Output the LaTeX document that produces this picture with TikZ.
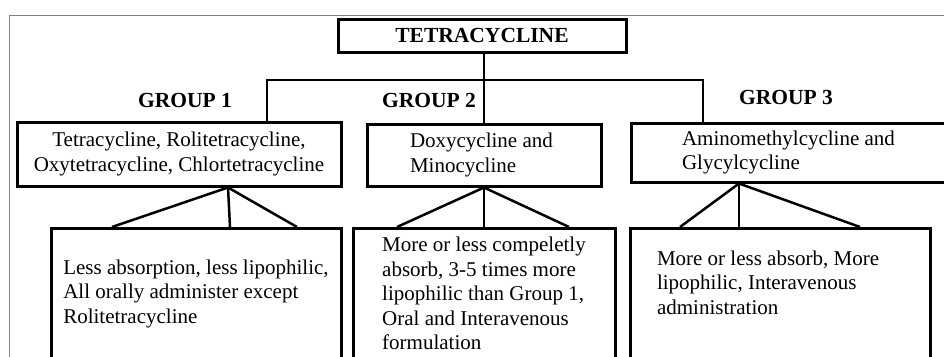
\documentclass[tikz,border=0pt]{standalone}
\usepackage{fontspec}
\setmainfont{Liberation Serif}
\usetikzlibrary{positioning}

\begin{document}
\begin{tikzpicture}[x=1pt,y=-1pt,
    every node/.style={font=\fontsize{21}{24.5}\selectfont},
    box/.style={draw=black,line width=3pt,inner sep=0pt},
    head/.style={font=\fontsize{21.5}{24}\selectfont\bfseries},
    link/.style={line width=2.5pt}]
  \useasboundingbox (0,0) rectangle (944,356);
  \clip (0,0) rectangle (944,356);
  \draw[gray,line width=1pt] (9,15) rectangle (960,380);

  % top
  \node[box,head,minimum width=288,minimum height=33] (tetra) at (482,35.5) {TETRACYCLINE};

  % groups
  \node[head] (lab1) at (185,100) {GROUP 1};
  \node[head] (lab2) at (429,100) {GROUP 2};
  \node[head] (lab3) at (786,97) {GROUP 3};

  \node[box,minimum width=324,minimum height=64,align=center] (g1) at (179,154)
    {Tetracycline, Rolitetracycline,\\Oxytetracycline, Chlortetracycline};
  \node[box,minimum width=234,minimum height=62,align=flush left,text width=148] (g2) at (484,155)
    {Doxycycline and\\Minocycline};
  \node[box,minimum width=315,minimum height=59,align=left] (g3) at (788.5,152.5)
    {Aminomethylcycline and\\Glycylcycline};

  % properties
  \node[box,anchor=north,minimum width=290,minimum height=130,align=left] (b1) at (196,227)
    {Less absorption, less lipophilic,\\All orally administer except\\Rolitetracycline};
  \node[box,anchor=north,minimum width=262,minimum height=130,align=left] (b2) at (484,227)
    {More or less compeletly\\absorb, 3-5 times more\\lipophilic than Group 1,\\Oral and Interavenous\\formulation};
  \node[box,anchor=north,minimum width=300,minimum height=130,align=flush left,text width=246] (b3) at (780,227)
    {More or less absorb, More\\lipophilic, Interavenous\\administration\rule[-22pt]{0pt}{0pt}};

  % links
  \coordinate (j1) at (267,80);
  \coordinate (j3) at (703,80);
  \draw[link] (tetra.south -| g2.north) -- (g2.north);
  \draw[link] (g1.north -| j1) -- (j1) -- (j3) -- (g3.north -| j3);

  \foreach \dx in {-84,34,101}
    \draw[link] ([xshift=49]g1.south) -- ([xshift=\dx]b1.north);
  \foreach \dx in {-87,0,85}
    \draw[link] (g2.south) -- ([xshift=\dx]b2.north);
  \foreach \dx in {-100,-41,80}
    \draw[link] ([xshift=-49.5]g3.south) -- ([xshift=\dx]b3.north);
\end{tikzpicture}
\end{document}
